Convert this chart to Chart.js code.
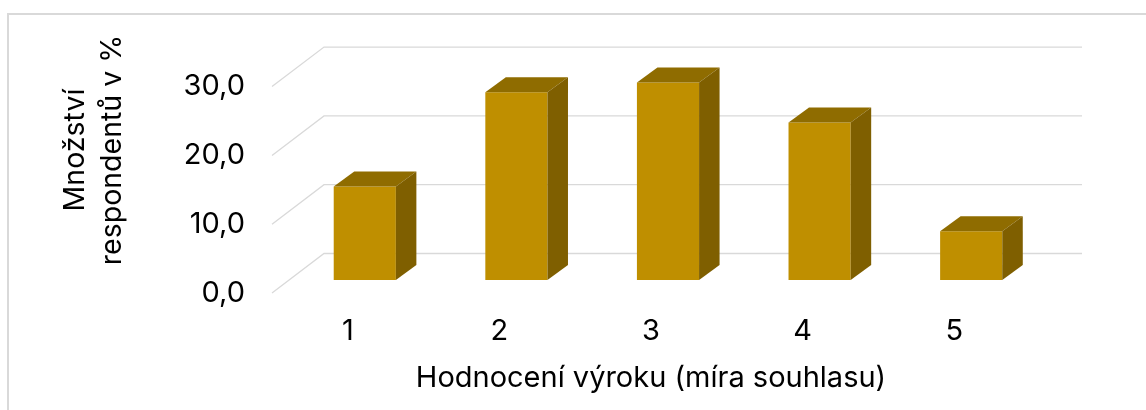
<!DOCTYPE html>
<html>
<head>
<meta charset="utf-8">
<script src="https://cdn.jsdelivr.net/npm/chart.js@4.4.1/dist/chart.umd.min.js"></script>
<style>
  html, body { margin: 0; padding: 0; background: #ffffff; }
  #wrap { position: relative; width: 1146px; height: 410px; overflow: hidden; }
  #frame { position: absolute; left: 7px; top: 13px; width: 1200px; height: 500px;
           border-left: 2px solid #d9d9d9; border-top: 2px solid #d9d9d9; box-sizing: border-box; }
  canvas { position: absolute; left: 0; top: 0; }
</style>
</head>
<body>
<div id="wrap">
  <div id="frame"></div>
  <canvas id="c" width="1146" height="410"></canvas>
</div>
<script>
// ---- data ----
const categories = ['1', '2', '3', '4', '5'];
const values = [13.6, 27.3, 28.7, 22.9, 7.1];
const yTickValues = [0, 10, 20, 30];
const xAxisTitle = 'Hodnocení výroku (míra souhlasu)';
const yAxisTitle = ['Množství', 'respondentů v %'];

// ---- styling ----
const FONT = 'Inter, "Noto Sans", sans-serif';
const FS = 29;
const FRONT = '#BF8F00';
const TOP = '#8F6C00';
const SIDE = '#7F5F00';
const GRID = '#d9d9d9';
const WALL = { dx: 52, dy: -39.5 };   // full depth of the 3D box
const BAROFF = { dx: 17, dy: -13 };   // depth position of bar front faces
const BARDEPTH = { dx: 20.5, dy: -15 };

const threeD = {
  id: 'threeD',
  beforeDatasetsDraw(chart) {
    const { ctx, chartArea, scales: { y } } = chart;
    ctx.save();
    ctx.strokeStyle = GRID;
    ctx.lineWidth = 1.3;
    yTickValues.forEach(v => {
      const py = y.getPixelForValue(v);
      ctx.beginPath();
      ctx.moveTo(chartArea.left, py);
      ctx.lineTo(chartArea.left + WALL.dx, py + WALL.dy);
      ctx.lineTo(chartArea.right + WALL.dx, py + WALL.dy);
      ctx.stroke();
    });
    ctx.restore();
    ctx.save();
    ctx.translate(BAROFF.dx, BAROFF.dy);
  },
  afterDatasetsDraw(chart) {
    const { ctx } = chart;
    ctx.restore();
    const meta = chart.getDatasetMeta(0);
    ctx.save();
    meta.data.forEach(bar => {
      const p = bar.getProps(['x', 'y', 'base', 'width'], true);
      const l = p.x - p.width / 2 + BAROFF.dx;
      const r = p.x + p.width / 2 + BAROFF.dx;
      const t = p.y + BAROFF.dy;
      const b = p.base + BAROFF.dy;
      ctx.fillStyle = TOP;
      ctx.beginPath();
      ctx.moveTo(l, t);
      ctx.lineTo(l + BARDEPTH.dx, t + BARDEPTH.dy);
      ctx.lineTo(r + BARDEPTH.dx, t + BARDEPTH.dy);
      ctx.lineTo(r, t);
      ctx.closePath();
      ctx.fill();
      ctx.fillStyle = SIDE;
      ctx.beginPath();
      ctx.moveTo(r, t);
      ctx.lineTo(r + BARDEPTH.dx, t + BARDEPTH.dy);
      ctx.lineTo(r + BARDEPTH.dx, b + BARDEPTH.dy);
      ctx.lineTo(r, b);
      ctx.closePath();
      ctx.fill();
    });
    ctx.restore();
  },
  afterDraw(chart) {
    const { ctx } = chart;
    ctx.save();
    ctx.fillStyle = '#000000';
    ctx.font = (FS - 0.5) + 'px ' + FONT;
    ctx.textAlign = 'center';
    ctx.textBaseline = 'middle';
    ctx.translate(0, 150);
    ctx.rotate(-Math.PI / 2);
    ctx.fillText(yAxisTitle[0], 0, 75);
    ctx.fillText(yAxisTitle[1], 0, 112);
    ctx.restore();
  }
};

new Chart(document.getElementById('c'), {
  type: 'bar',
  data: {
    labels: categories,
    datasets: [{
      data: values,
      backgroundColor: FRONT,
      borderWidth: 0,
      categoryPercentage: 1,
      barPercentage: 0.41
    }]
  },
  options: {
    responsive: false,
    animation: false,
    devicePixelRatio: 1,
    layout: { padding: { left: 0, right: 116, top: 86.6, bottom: 0 } },
    plugins: { legend: { display: false }, tooltip: { enabled: false } },
    scales: {
      x: {
        grid: { display: false, drawTicks: false },
        border: { display: false },
        ticks: { color: '#000', font: { family: FONT, size: FS, lineHeight: 1.2 }, padding: 20.5, maxRotation: 0 },
        title: { display: true, text: xAxisTitle, color: '#000',
                 font: { family: FONT, size: FS, lineHeight: 1.2 }, padding: { top: 0, bottom: 14.5 } },
        afterFit(s) { s.height = 117; }
      },
      y: {
        min: 0, max: 30,
        grid: { display: false, drawTicks: false },
        border: { display: false },
        afterBuildTicks(s) { s.ticks = yTickValues.map(v => ({ value: v })); },
        ticks: {
          color: '#000', font: { family: FONT, size: FS }, padding: 27,
          callback: v => Number(v).toFixed(1).replace('.', ',')
        },
        afterFit(s) { s.width = 272; }
      }
    }
  },
  plugins: [threeD]
});
</script>
</body>
</html>
